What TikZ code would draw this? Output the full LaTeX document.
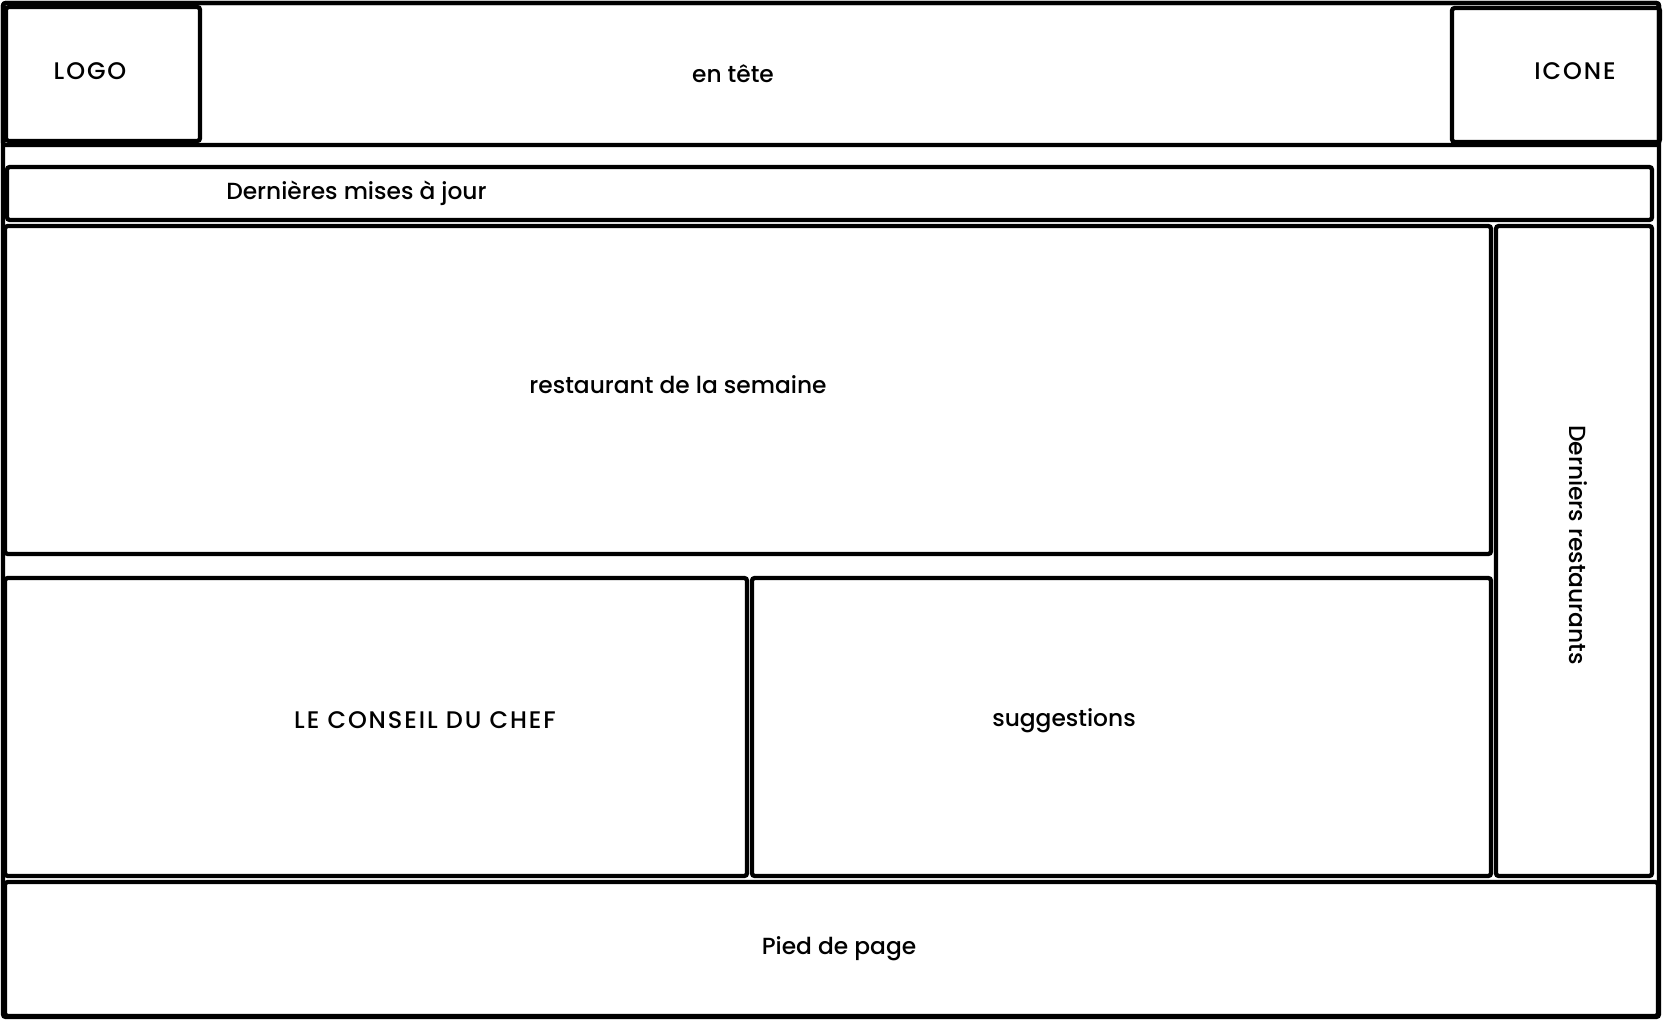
\documentclass[tikz,border=0pt]{standalone}
\usepackage{fontspec}
\setmainfont{Poppins}[UprightFont=* Medium]
\usepackage{tikz}

\tikzset{
  zone/.style={line width=3.2pt, rounded corners=2pt},
  txt/.style={font=\fontsize{17.5}{20}\selectfont, inner sep=0pt},
  caps/.style={txt, font=\fontsize{18}{20}\selectfont\addfontfeatures{LetterSpace=8}}
}

\begin{document}
\begin{tikzpicture}[x=0.75pt, y=-0.75pt]
\useasboundingbox (0,0) rectangle (1664,1020);
% page frame and header
\draw[zone] (3,3) rectangle (1659,1017);
\draw[zone] (3,3) rectangle (1659,145);
\draw[zone] (6,7) rectangle (200,141);
\draw[zone] (1452,8) rectangle (1660,142);
\node[caps] (logo) at (90,71) {LOGO};
\node[txt] (entete) at (733,74) {en tête};
\node[caps] (icone) at (1575,71) {ICONE};

% bandeau
\draw[zone] (7,167) rectangle (1652,220);
\node[txt, anchor=west] (maj) at (226,193) {Dernières mises à jour};

% contenu
\draw[zone] (5,226) rectangle (1491,554);
\node[txt] (semaine) at (678,385) {restaurant de la semaine};
\draw[zone] (5,578) rectangle (747,876);
\node[caps] (conseil) at (425,720) {LE CONSEIL DU CHEF};
\draw[zone] (752,578) rectangle (1491,876);
\node[txt] (sugg) at (1064,721) {suggestions};
\draw[zone] (1496,226) rectangle (1652,876);
\node[txt, rotate=-90] (derniers) at (1578,545) {Derniers restaurants};

% pied
\draw[zone] (5,882) rectangle (1658,1016);
\node[txt] (pied) at (839,949) {Pied de page};
\end{tikzpicture}
\end{document}
